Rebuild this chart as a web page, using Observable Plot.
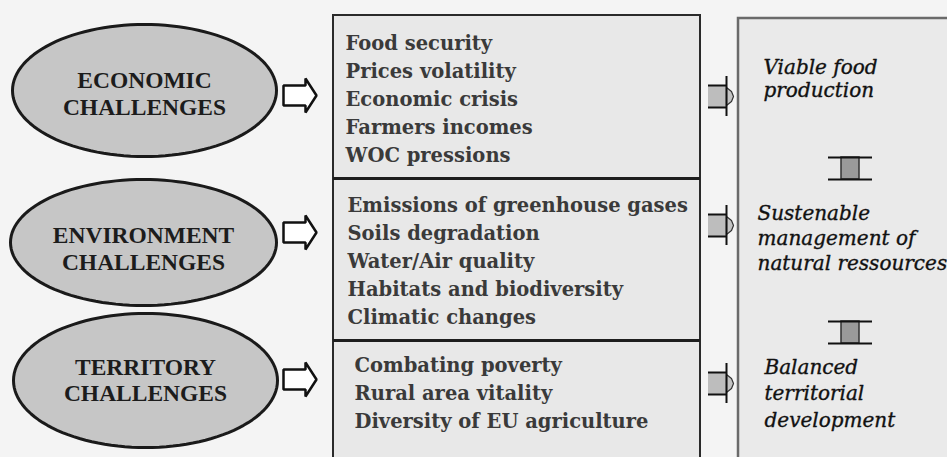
<!DOCTYPE html>
<html><head><meta charset="utf-8">
<script src="https://cdn.jsdelivr.net/npm/d3@7"></script>
<script src="https://cdn.jsdelivr.net/npm/@observablehq/plot@0.6"></script>
<style>html,body{margin:0;padding:0;background:#f4f4f4;overflow:hidden}</style>
</head><body><div id="chart"></div>
<script>
// ---- content ----
const challenges = [["ECONOMIC", "CHALLENGES"], ["ENVIRONMENT", "CHALLENGES"], ["TERRITORY", "CHALLENGES"]];
const economicIssues = ["Food security", "Prices volatility", "Economic crisis", "Farmers incomes", "WOC pressions"];
const environmentIssues = ["Emissions of greenhouse gases", "Soils degradation", "Water/Air quality", "Habitats and biodiversity", "Climatic changes"];
const territoryIssues = ["Combating poverty", "Rural area vitality", "Diversity of EU agriculture"];
const outcomes = [["Viable food", "production"], ["Sustenable", "management of", "natural ressources"], ["Balanced", "territorial", "development"]];

// ---- layout (pixel space) ----
const W = 947, H = 457;
const ell = [{cx: 144, cy: 90, rx: 132, ry: 66}, {cx: 143, cy: 242, rx: 133, ry: 63}, {cx: 145, cy: 380, rx: 132, ry: 67}];
const chalY = [[80, 107], [235, 262], [367, 393]];
const issueGroups = [economicIssues, environmentIssues, territoryIssues];
const issueX = [345, 347, 354], issueY0 = [43, 205, 365], issueStep = 28;
const outX = [763, 757, 764], outY0 = [67, 213, 367], outStep = [23, 25, 26.5];
const hollowY = [95, 232, 379];
const grayY = [96, 225, 383];
const connY = [168, 332];

// ellipse outlines
const ellPts = [];
ell.forEach((e, i) => {
  for (let k = 0; k < 120; k++) {
    const t = k / 120 * 2 * Math.PI;
    ellPts.push({g: i, x: e.cx + e.rx * Math.cos(t), y: e.cy + e.ry * Math.sin(t)});
  }
});
const chalText = challenges.flatMap((lines, i) => lines.map((t, j) => ({x: ell[i].cx, y: chalY[i][j], t})));
const issueText = issueGroups.flatMap((g, i) => g.map((t, j) => ({x: issueX[i], y: issueY0[i] + j * issueStep, t})));
const outText = outcomes.flatMap((g, i) => g.map((t, j) => ({x: outX[i], y: outY0[i] + j * outStep[i], t})));

// hollow arrows
const hollow = hollowY.flatMap((cy, i) => [[283, -10], [305, -10], [305, -17], [316, 0], [305, 17], [305, 10], [283, 10]].map(([x, dy]) => ({g: i, x, y: cy + dy})));
// gray arrow bodies and heads
const grayBody = grayY.map(cy => ({x1: 708, x2: 726, y1: cy - 11, y2: cy + 11}));
const grayHead = grayY.flatMap((cy, i) => [[726, -9], [731, -5], [733, 0], [731, 5], [726, 9]].map(([x, dy]) => ({g: i, x, y: cy + dy})));
const grayEdges = grayY.flatMap(cy => [{x1: 708, x2: 726, y: cy - 11}, {x1: 708, x2: 726, y: cy + 11}]);
const grayStem = grayY.map(cy => ({x: 726, y1: cy - 20, y2: cy + 20}));
// connectors
const connBody = connY.map(cy => ({x1: 841, x2: 859, y1: cy - 11, y2: cy + 11}));
const connEdges = connY.flatMap(cy => [{x1: 828, x2: 872, y: cy - 11}, {x1: 828, x2: 872, y: cy + 11}]);

const serif = "'DejaVu Serif', serif";
const plot = Plot.plot({
  width: W, height: H, margin: 0,
  x: {domain: [0, W], range: [0, W], axis: null},
  y: {domain: [0, H], range: [0, H], axis: null},
  style: {background: "#f4f4f4", overflow: "hidden"},
  marks: [
    // middle box
    Plot.rect([{x1: 333, x2: 700, y1: 15, y2: H + 10}], {x1: "x1", x2: "x2", y1: "y1", y2: "y2", fill: "#e8e8e8", stroke: "#2a2a2a", strokeWidth: 2}),
    Plot.ruleY([178, 340], {x1: 333, x2: 700, stroke: "#1e1e1e", strokeWidth: 3}),
    // right box
    Plot.rect([{x1: 738, x2: W + 20, y1: 18, y2: H + 20}], {x1: "x1", x2: "x2", y1: "y1", y2: "y2", fill: "#eaeaea", stroke: "#6a6a6a", strokeWidth: 2.5}),
    // ellipses
    Plot.line(ellPts, {x: "x", y: "y", z: "g", curve: "linear-closed", fill: "#c6c6c6", stroke: "#1a1a1a", strokeWidth: 3}),
    Plot.text(chalText, {x: "x", y: "y", text: "t", fontFamily: "'Liberation Serif', serif", fontWeight: "bold", fontSize: 23.5, fill: "#1c1c1c"}),
    // hollow arrows
    Plot.line(hollow, {x: "x", y: "y", z: "g", curve: "linear-closed", fill: "#ffffff", stroke: "#111", strokeWidth: 2.5, strokeLinejoin: "miter"}),
    // gray arrows
    Plot.rect(grayBody, {x1: "x1", x2: "x2", y1: "y1", y2: "y2", fill: "#bdbdbd"}),
    Plot.line(grayHead, {x: "x", y: "y", z: "g", curve: "linear-closed", fill: "#c4c4c4", stroke: "#333", strokeWidth: 1.2}),
    Plot.ruleY(grayEdges, {x1: "x1", x2: "x2", y: "y", stroke: "#111", strokeWidth: 2}),
    Plot.ruleX(grayStem, {x: "x", y1: "y1", y2: "y2", stroke: "#111", strokeWidth: 2}),
    // connectors
    Plot.rect(connBody, {x1: "x1", x2: "x2", y1: "y1", y2: "y2", fill: "#9a9a9a", stroke: "#333", strokeWidth: 1.5}),
    Plot.ruleY(connEdges, {x1: "x1", x2: "x2", y: "y", stroke: "#111", strokeWidth: 2}),
    // texts
    Plot.text(issueText, {x: "x", y: "y", text: "t", textAnchor: "start", fontFamily: serif, fontWeight: "bold", fontSize: 19.5, fill: "#3a3a3a"}),
    Plot.text(outText, {x: "x", y: "y", text: "t", textAnchor: "start", fontFamily: serif, fontStyle: "italic", fontSize: 20, fill: "#111", stroke: "#111", strokeWidth: 0.35})
  ]
});
document.getElementById("chart").appendChild(plot);
</script>
</body></html>
